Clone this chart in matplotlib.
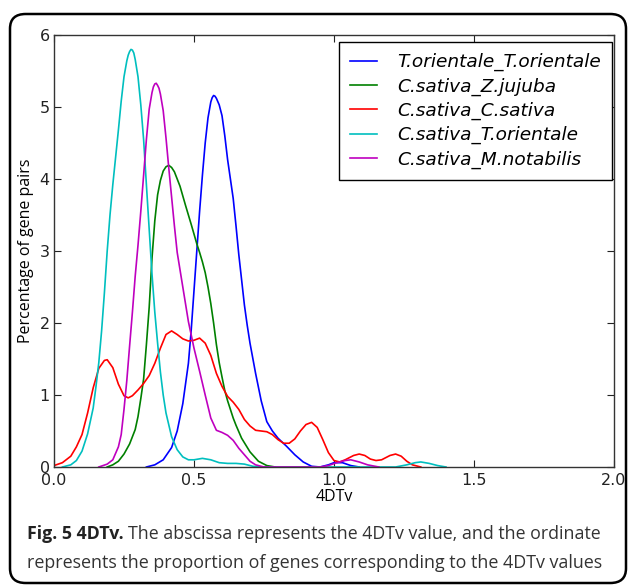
import matplotlib
matplotlib.use("Agg")
import matplotlib.pyplot as plt
from matplotlib.patches import FancyBboxPatch

# ---------------- data ----------------
series_names = ["T.orientale_T.orientale", "C.sativa_Z.jujuba", "C.sativa_C.sativa",
                "C.sativa_T.orientale", "C.sativa_M.notabilis"]
series_colors = ["#0000ff", "#008000", "#ff0000", "#00bfbf", "#bf00bf"]

blue_x = [0.33, 0.36, 0.39, 0.42, 0.44, 0.46, 0.48, 0.49, 0.50, 0.51, 0.52, 0.53, 0.54, 0.55,
          0.56, 0.565, 0.57, 0.575, 0.58, 0.59, 0.60, 0.61, 0.62, 0.63, 0.64, 0.65, 0.66,
          0.67, 0.68, 0.69, 0.70, 0.72, 0.74, 0.76, 0.78, 0.80, 0.83, 0.86, 0.89, 0.92, 0.95,
          0.98, 1.00, 1.03, 1.06, 1.09]
blue_y = [0.0, 0.03, 0.10, 0.27, 0.50, 0.88, 1.44, 1.90, 2.45, 3.00, 3.55, 4.05, 4.50, 4.85,
          5.07, 5.13, 5.16, 5.15, 5.12, 5.03, 4.88, 4.60, 4.27, 4.00, 3.73, 3.35, 2.95,
          2.60, 2.25, 1.97, 1.72, 1.30, 0.92, 0.63, 0.50, 0.40, 0.29, 0.17, 0.07, 0.01, 0.0,
          0.03, 0.06, 0.06, 0.02, 0.0]

green_x = [0.19, 0.21, 0.23, 0.25, 0.27, 0.29, 0.30, 0.31, 0.32, 0.33, 0.34, 0.35, 0.36, 0.37,
           0.38, 0.39, 0.40, 0.41, 0.42, 0.43, 0.45, 0.47, 0.49, 0.51, 0.52, 0.53, 0.54, 0.55,
           0.56, 0.57, 0.58, 0.59, 0.60, 0.61, 0.62, 0.63, 0.64, 0.65, 0.67, 0.70, 0.73, 0.76,
           0.79]
green_y = [0.0, 0.03, 0.08, 0.18, 0.32, 0.52, 0.70, 0.95, 1.22, 1.70, 2.22, 2.90, 3.42, 3.78,
           3.98, 4.11, 4.17, 4.19, 4.16, 4.10, 3.90, 3.63, 3.37, 3.10, 2.98, 2.85, 2.70, 2.50,
           2.27, 2.00, 1.70, 1.45, 1.25, 1.06, 0.92, 0.80, 0.68, 0.58, 0.40, 0.21, 0.08, 0.02,
           0.0]

red_x = [0.0, 0.03, 0.06, 0.08, 0.10, 0.12, 0.14, 0.16, 0.18, 0.19, 0.21, 0.23, 0.25, 0.265,
         0.28, 0.30, 0.32, 0.34, 0.36, 0.38, 0.40, 0.42, 0.44, 0.46, 0.48, 0.50, 0.52, 0.54,
         0.56, 0.58, 0.60, 0.62, 0.64, 0.66, 0.68, 0.70, 0.72, 0.74, 0.76, 0.78, 0.80, 0.82,
         0.84, 0.86, 0.88, 0.90, 0.92, 0.94, 0.96, 0.98, 1.00, 1.02, 1.04, 1.07, 1.09, 1.11,
         1.13, 1.15, 1.17, 1.20, 1.22, 1.24, 1.26, 1.28, 1.31]
red_y = [0.02, 0.06, 0.15, 0.28, 0.45, 0.75, 1.10, 1.37, 1.48, 1.49, 1.38, 1.15, 0.99, 0.96,
         0.99, 1.07, 1.16, 1.27, 1.44, 1.65, 1.84, 1.89, 1.84, 1.78, 1.75, 1.76, 1.79, 1.72,
         1.55, 1.30, 1.12, 0.98, 0.90, 0.80, 0.66, 0.57, 0.51, 0.50, 0.49, 0.45, 0.38, 0.33,
         0.33, 0.39, 0.50, 0.59, 0.62, 0.55, 0.38, 0.20, 0.09, 0.07, 0.10, 0.16, 0.18, 0.16,
         0.11, 0.09, 0.10, 0.16, 0.18, 0.15, 0.08, 0.03, 0.0]

cyan_x = [0.03, 0.06, 0.08, 0.10, 0.12, 0.14, 0.15, 0.16, 0.17, 0.18, 0.19, 0.20, 0.21, 0.22,
          0.23, 0.24, 0.25, 0.26, 0.265, 0.27, 0.275, 0.28, 0.285, 0.29, 0.30, 0.31, 0.32,
          0.33, 0.34, 0.35, 0.36, 0.37, 0.38, 0.39, 0.40, 0.42, 0.44, 0.46, 0.48, 0.50, 0.53,
          0.56, 0.59, 0.62, 0.65, 0.68, 0.71, 0.74, 1.22, 1.26, 1.29, 1.31, 1.34, 1.37, 1.40]
cyan_y = [0.0, 0.03, 0.09, 0.22, 0.46, 0.82, 1.12, 1.45, 1.89, 2.42, 3.00, 3.50, 3.92, 4.30,
          4.68, 5.08, 5.42, 5.64, 5.72, 5.77, 5.80, 5.79, 5.75, 5.66, 5.42, 5.03, 4.55,
          3.92, 3.30, 2.68, 2.15, 1.72, 1.32, 1.00, 0.75, 0.42, 0.24, 0.14, 0.10, 0.10, 0.12,
          0.10, 0.06, 0.05, 0.05, 0.04, 0.01, 0.0, 0.0, 0.03, 0.06, 0.07, 0.05, 0.02, 0.0]

mag_x = [0.16, 0.19, 0.21, 0.23, 0.24, 0.25, 0.26, 0.27, 0.28, 0.29, 0.30, 0.31, 0.32, 0.33,
         0.34, 0.35, 0.355, 0.36, 0.365, 0.37, 0.375, 0.38, 0.39, 0.40, 0.41, 0.42, 0.43,
         0.44, 0.46, 0.48, 0.50, 0.52, 0.54, 0.56, 0.58, 0.60, 0.62, 0.64, 0.66, 0.68, 0.70,
         0.72, 0.75, 0.95, 0.98, 1.01, 1.04, 1.06, 1.09, 1.12, 1.16]
mag_y = [0.0, 0.04, 0.10, 0.28, 0.45, 0.80, 1.20, 1.68, 2.15, 2.65, 3.08, 3.55, 4.05, 4.55,
         4.97, 5.20, 5.28, 5.32, 5.33, 5.30, 5.26, 5.18, 4.95, 4.57, 4.15, 3.75, 3.35,
         2.98, 2.50, 2.02, 1.65, 1.33, 1.00, 0.68, 0.51, 0.48, 0.44, 0.37, 0.26, 0.17, 0.08,
         0.03, 0.0, 0.0, 0.02, 0.06, 0.09, 0.10, 0.07, 0.03, 0.0]

xs_all = [blue_x, green_x, red_x, cyan_x, mag_x]
ys_all = [blue_y, green_y, red_y, cyan_y, mag_y]

x_ticks = [0.0, 0.5, 1.0, 1.5, 2.0]
y_ticks = [0, 1, 2, 3, 4, 5, 6]
x_label = "4DTv"
y_label = "Percentage of gene pairs"
caption_bold = "Fig. 5 4DTv."
caption_rest1 = "The abscissa represents the 4DTv value, and the ordinate"
caption_rest2 = "represents the proportion of genes corresponding to the 4DTv values"

# ---------------- figure ----------------
W, H = 629, 586
fig = plt.figure(figsize=(W / 100, H / 100), dpi=100)

# rounded frame
frame = FancyBboxPatch((10 / W, 1 - 583 / H), (626 - 10) / W, (583 - 14) / H,
                       boxstyle="round,pad=0,rounding_size=0.025",
                       transform=fig.transFigure, facecolor="none",
                       edgecolor="black", linewidth=1.8, zorder=0)
fig.patches.append(frame)

ax_l, ax_r, ax_t, ax_b = 54, 614, 35, 467
ax = fig.add_axes([ax_l / W, 1 - ax_b / H, (ax_r - ax_l) / W, (ax_b - ax_t) / H])

for xs, ys, c, n in zip(xs_all, ys_all, series_colors, series_names):
    ax.plot(xs, ys, color=c, lw=1.2, label=n, solid_joinstyle="round")

ax.set_xlim(0, 2)
ax.set_ylim(0, 6)
ax.set_xticks(x_ticks)
ax.set_xticklabels([f"{t:.1f}" for t in x_ticks])
ax.set_yticks(y_ticks)
ax.tick_params(direction="in", top=True, right=True, length=5, width=0.8,
               labelsize=11.5, colors="#222222", pad=3)
ax.tick_params(axis="x", pad=4)
for s in ax.spines.values():
    s.set_color("#333333")
    s.set_linewidth(1.0)

ax.set_xlabel(x_label, fontsize=11.5, family="Open Sans", labelpad=1)
ax.set_ylabel(y_label, fontsize=11.5, family="Open Sans", labelpad=4)

leg = ax.legend(loc="upper right", fancybox=False, framealpha=1, edgecolor="black",
                prop={"style": "italic", "size": 13.3}, handlelength=1.45,
                handletextpad=1.1, borderpad=0.6, labelspacing=0.33,
                borderaxespad=0,
                bbox_to_anchor=((612 - ax_l) / (ax_r - ax_l), (ax_b - 42) / (ax_b - ax_t)))
leg.get_frame().set_linewidth(1.0)

# caption (justified between x=27 and x=601)
cap_l, cap_r = 27, 601
cap_fs = 12.8
gap = 7
y1, y2 = 1 - 534 / H, 1 - 563 / H
t1 = fig.text(cap_l / W, y1, caption_bold, fontsize=cap_fs, family="Open Sans",
              fontweight="bold", va="center", ha="left", color="#222222")
t2 = fig.text(cap_r / W, y1, caption_rest1, fontsize=cap_fs, family="Open Sans",
              va="center", ha="right", color="#333333")
t3 = fig.text(cap_l / W, y2, caption_rest2, fontsize=cap_fs, family="Open Sans",
              va="center", ha="left", color="#333333")
fig.canvas.draw()
w1 = t1.get_window_extent().width
w2 = t2.get_window_extent().width
w3 = t3.get_window_extent().width
if w1 + w2 > 0:
    k = (cap_r - cap_l - gap) / (w1 + w2)
    t1.set_fontsize(cap_fs * k)
    t2.set_fontsize(cap_fs * k)
if w3 > 0:
    t3.set_fontsize(cap_fs * (cap_r - cap_l) / w3)

fig.savefig("out.png", dpi=100)
